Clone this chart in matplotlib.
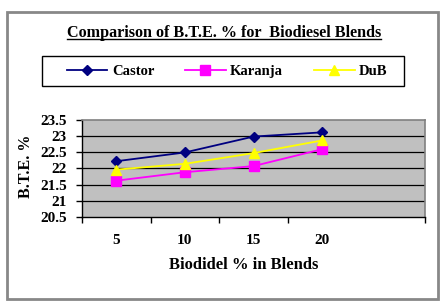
import matplotlib
matplotlib.use("Agg")
import matplotlib.pyplot as plt
from matplotlib.lines import Line2D
from matplotlib.patches import Rectangle

categories = ["5", "10", "15", "20"]
castor = [22.22, 22.49, 22.98, 23.11]
karanja = [21.62, 21.88, 22.07, 22.59]
dub = [21.96, 22.14, 22.47, 22.86]

yticks = [20.5, 21, 21.5, 22, 22.5, 23, 23.5]

plt.rcParams['font.family'] = ['Liberation Serif', 'DejaVu Serif']
plt.rcParams['font.weight'] = 'bold'

W, H = 444, 306
fig = plt.figure(figsize=(W / 100, H / 100), dpi=100)
fig.patch.set_facecolor('white')

# outer frame
fig.patches.append(Rectangle((7 / W, 1 - 299 / H), (438 - 7) / W, (299 - 12) / H,
                             transform=fig.transFigure, fill=False,
                             edgecolor='#888888', linewidth=2))
# legend frame
fig.patches.append(Rectangle((42 / W, 1 - 86 / H), (404 - 42) / W, (86 - 56) / H,
                             transform=fig.transFigure, fill=False,
                             edgecolor='black', linewidth=1))

ax = fig.add_axes([82 / W, 1 - 217 / H, (425 - 82) / W, (217 - 119.7) / H])
ax.set_facecolor('#C0C0C0')

xs = [i + 0.5 for i in range(len(categories))]
ax.plot(xs, castor, color='#000080', marker='D', markersize=5, linewidth=1.3, label='Castor')
ax.plot(xs, karanja, color='#FF00FF', marker='s', markersize=7, linewidth=1.3, label='Karanja')
ax.plot(xs, dub, color='#FFFF00', marker='^', markersize=7, linewidth=1.3, label='DuB')

ax.set_xlim(0, 5)
ax.set_ylim(20.5, 23.5)
ax.set_yticks(yticks)
ax.set_yticklabels(['20.5', '21', '21.5', '22', '22.5', '23', '23.5'])
for v in yticks[1:-1]:
    ax.axhline(v, color='black', linewidth=0.9, zorder=1)

ax.set_xticks(xs)
ax.set_xticklabels(categories)
ax.set_xticks([0, 1, 2, 3, 5], minor=True)
ax.tick_params(axis='x', which='major', length=0, pad=12, labelsize=11)
ax.tick_params(axis='x', which='minor', length=4, width=1, direction='out')
ax.tick_params(axis='y', length=4, width=1, direction='out', labelsize=11, pad=7)
for lab in ax.get_xticklabels() + ax.get_yticklabels():
    lab.set_fontweight('bold')

for s in ['top', 'right']:
    ax.spines[s].set_color('#808080')
    ax.spines[s].set_linewidth(1.2)
for s in ['left', 'bottom']:
    ax.spines[s].set_color('black')
    ax.spines[s].set_linewidth(1)

fig.text(26 / W, 1 - 166 / H, 'B.T.E. %', ha='center', va='center', rotation=90,
         fontsize=11.5, fontweight='bold')
fig.text(244 / W, 1 - 265 / H, 'Biodidel % in Blends', ha='center', va='center',
         fontsize=12, fontweight='bold')

title = fig.text(224 / W, 1 - 33 / H, 'Comparison of B.T.E. % for  Biodiesel Blends',
                 ha='center', va='center', fontsize=11.6, fontweight='bold')

leg = fig.legend(loc='center', bbox_to_anchor=(227 / W, 1 - 71 / H), ncol=3,
                 frameon=False,
                 prop={'family': 'Liberation Serif', 'weight': 'bold', 'size': 10.5},
                 handlelength=2.8, columnspacing=2.1, borderpad=0.5, handletextpad=0.3)

fig.canvas.draw()
bb = title.get_window_extent().transformed(fig.transFigure.inverted())
fig.lines.append(Line2D([bb.x0, bb.x1], [bb.y0 + 0.006, bb.y0 + 0.006],
                        transform=fig.transFigure, color='black', linewidth=1))

fig.savefig('out.png', dpi=100)
